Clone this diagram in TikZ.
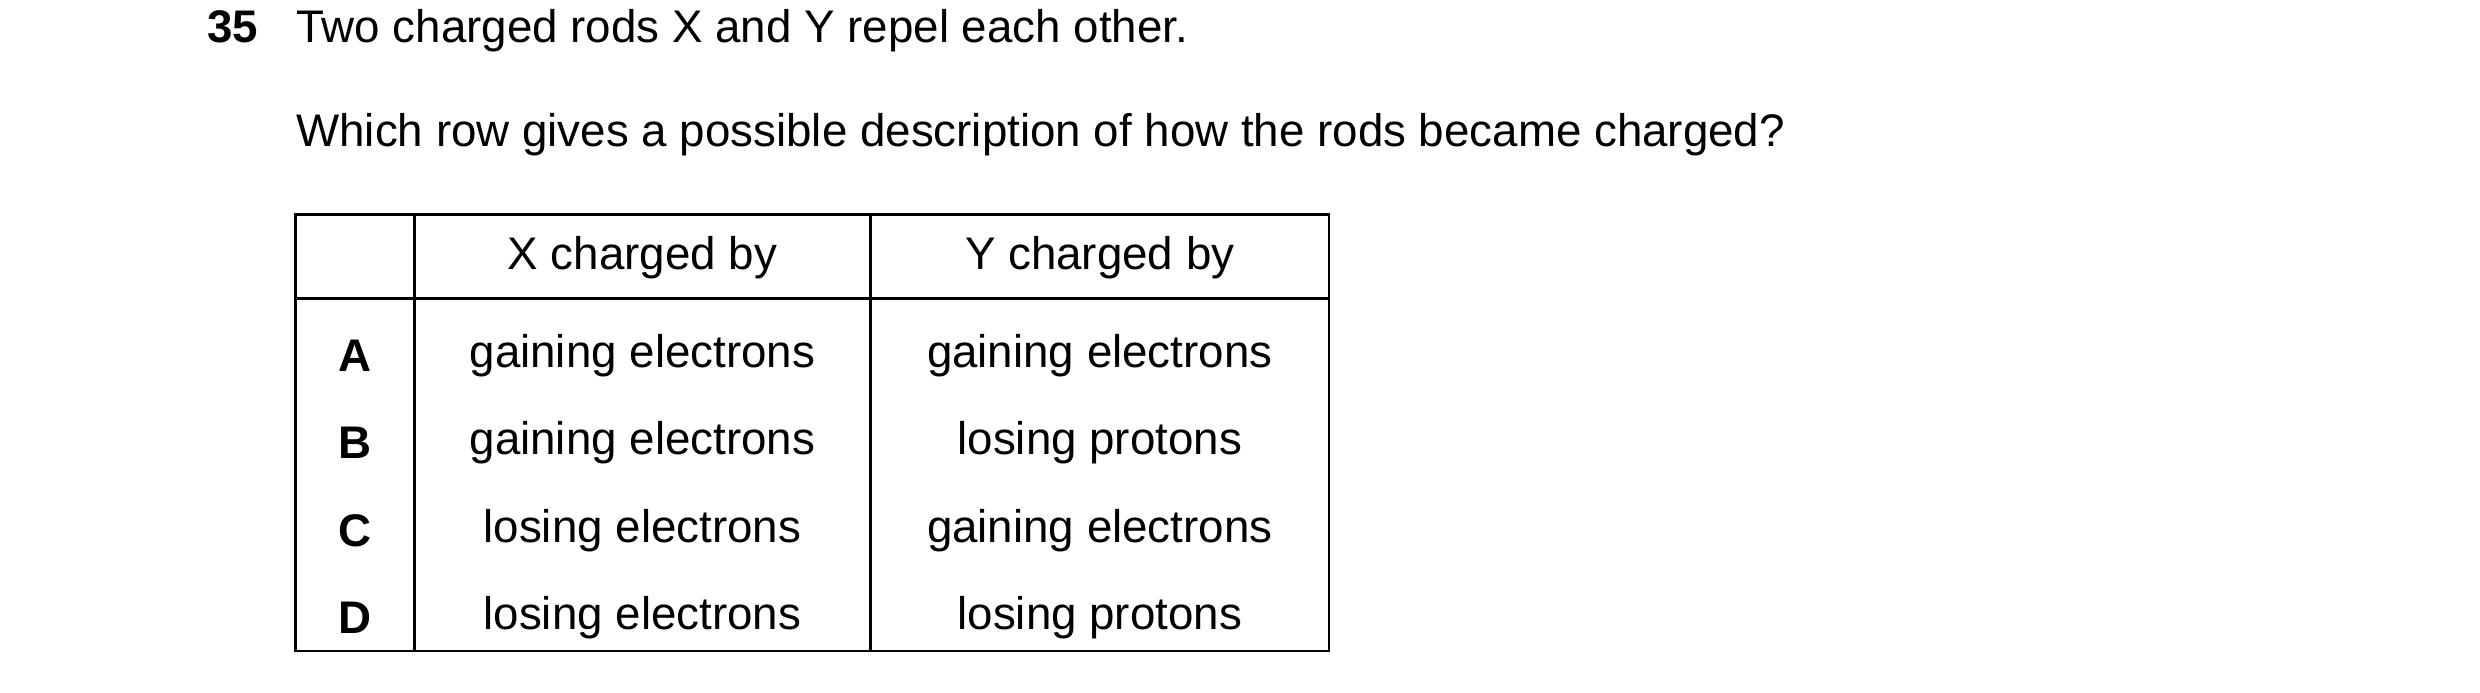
\documentclass[tikz,border=0pt]{standalone}
\usepackage{fontspec}
\setmainfont{Liberation Sans}
\begin{document}
\begin{tikzpicture}[x=0.00989cm,y=-0.00989cm,
  t/.style={font=\fontsize{13}{15}\selectfont, inner sep=0pt},
  b/.style={t, font=\fontsize{13}{15}\selectfont\bfseries},
  ln/.style={line width=0.7pt}]
\useasboundingbox (0,0) rectangle (2507.6,699.7);
\node[b, anchor=base west] (n) at (209,43) {35};
\node[t, anchor=base west] (q1) at (299,43) {Two charged rods X and Y repel each other.};
\node[t, anchor=base west] (q2) at (299,148) {Which row gives a possible description of how the rods became charged?};
\draw[ln] (299,217) rectangle (1344,658);
\draw[ln] (299,302) -- (1344,302);
\draw[ln] (419,217) -- (419,658);
\draw[ln] (880,217) -- (880,658);
\node[t] (h1) at (649.5,261) {X charged by};
\node[t] (h2) at (1112,261) {Y charged by};
\foreach \l/\x/\y/\yy [count=\i] in {A/gaining electrons/gaining electrons/360,
  B/gaining electrons/losing protons/448,
  C/losing electrons/gaining electrons/537,
  D/losing electrons/losing protons/625}{
  \node[b] (r\i) at (359,\yy) {\l};
  \node[t] (x\i) at (649.5,\yy) {\x};
  \node[t] (y\i) at (1112,\yy) {\y};
}
\end{tikzpicture}
\end{document}
